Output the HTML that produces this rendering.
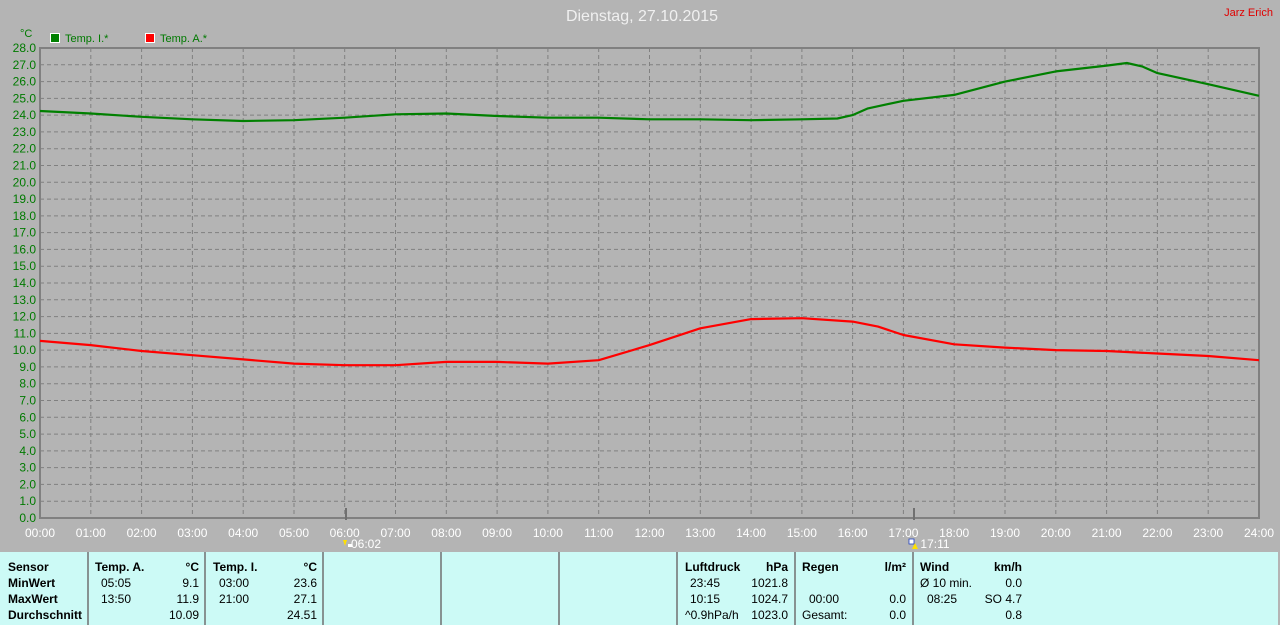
<!DOCTYPE html>
<html><head><meta charset="utf-8"><style>
html,body{margin:0;padding:0;width:1280px;height:625px;overflow:hidden;background:#b4b4b4}
svg{display:block;font-family:"Liberation Sans",Arial,sans-serif}
</style></head><body>
<svg width="1280" height="625" viewBox="0 0 1280 625">
<rect width="1280" height="625" fill="#b4b4b4"/>
<text x="642" y="21" font-size="16" fill="#f0f0f0" text-anchor="middle">Dienstag, 27.10.2015</text>
<text x="1273" y="16" font-size="11" fill="#e00000" text-anchor="end">Jarz Erich</text>
<text x="20" y="37" font-size="11" fill="#007a00">°C</text>
<rect x="50.5" y="33.5" width="9" height="9" fill="#008000" stroke="#fff"/>
<text x="65" y="42" font-size="11" fill="#007a00">Temp. I.*</text>
<rect x="145.5" y="33.5" width="9" height="9" fill="#ff0000" stroke="#fff"/>
<text x="160" y="42" font-size="11" fill="#007a00">Temp. A.*</text>
<g stroke="#808080" stroke-width="1" stroke-dasharray="4,3" fill="none">
<path d="M40 501.2H1259M40 484.4H1259M40 467.6H1259M40 450.9H1259M40 434.1H1259M40 417.3H1259M40 400.5H1259M40 383.7H1259M40 366.9H1259M40 350.1H1259M40 333.4H1259M40 316.6H1259M40 299.8H1259M40 283H1259M40 266.2H1259M40 249.4H1259M40 232.6H1259M40 215.9H1259M40 199.1H1259M40 182.3H1259M40 165.5H1259M40 148.7H1259M40 131.9H1259M40 115.1H1259M40 98.4H1259M40 81.6H1259M40 64.8H1259"/>
<path d="M90.8 48V518M141.6 48V518M192.4 48V518M243.2 48V518M294 48V518M344.7 48V518M395.5 48V518M446.3 48V518M497.1 48V518M547.9 48V518M598.7 48V518M649.5 48V518M700.3 48V518M751.1 48V518M801.9 48V518M852.6 48V518M903.4 48V518M954.2 48V518M1005 48V518M1055.8 48V518M1106.6 48V518M1157.4 48V518M1208.2 48V518"/>
</g>
<g stroke="#808080" stroke-width="2" fill="none">
<path d="M40 48H1259V518H40Z"/>
</g>
<path d="M346 508V520M914 508V520" stroke="#707070" stroke-width="2"/>
<g font-size="12" fill="#007a00" text-anchor="end">
<text x="36" y="522">0.0</text><text x="36" y="505.2">1.0</text><text x="36" y="488.4">2.0</text><text x="36" y="471.6">3.0</text><text x="36" y="454.9">4.0</text><text x="36" y="438.1">5.0</text><text x="36" y="421.3">6.0</text><text x="36" y="404.5">7.0</text><text x="36" y="387.7">8.0</text><text x="36" y="370.9">9.0</text><text x="36" y="354.1">10.0</text><text x="36" y="337.4">11.0</text><text x="36" y="320.6">12.0</text><text x="36" y="303.8">13.0</text><text x="36" y="287">14.0</text><text x="36" y="270.2">15.0</text><text x="36" y="253.4">16.0</text><text x="36" y="236.6">17.0</text><text x="36" y="219.9">18.0</text><text x="36" y="203.1">19.0</text><text x="36" y="186.3">20.0</text><text x="36" y="169.5">21.0</text><text x="36" y="152.7">22.0</text><text x="36" y="135.9">23.0</text><text x="36" y="119.1">24.0</text><text x="36" y="102.4">25.0</text><text x="36" y="85.6">26.0</text><text x="36" y="68.8">27.0</text><text x="36" y="52">28.0</text>
</g>
<g font-size="12" fill="#ffffff" text-anchor="middle">
<text x="40" y="537">00:00</text><text x="90.8" y="537">01:00</text><text x="141.6" y="537">02:00</text><text x="192.4" y="537">03:00</text><text x="243.2" y="537">04:00</text><text x="294" y="537">05:00</text><text x="344.7" y="537">06:00</text><text x="395.5" y="537">07:00</text><text x="446.3" y="537">08:00</text><text x="497.1" y="537">09:00</text><text x="547.9" y="537">10:00</text><text x="598.7" y="537">11:00</text><text x="649.5" y="537">12:00</text><text x="700.3" y="537">13:00</text><text x="751.1" y="537">14:00</text><text x="801.9" y="537">15:00</text><text x="852.6" y="537">16:00</text><text x="903.4" y="537">17:00</text><text x="954.2" y="537">18:00</text><text x="1005" y="537">19:00</text><text x="1055.8" y="537">20:00</text><text x="1106.6" y="537">21:00</text><text x="1157.4" y="537">22:00</text><text x="1208.2" y="537">23:00</text><text x="1259" y="537">24:00</text>
<text x="366" y="548">06:02</text><text x="935" y="548">17:11</text>
</g>
<path d="M343 540l4 0-2 6z" fill="#ffe000"/><rect x="348" y="544" width="4" height="3" fill="#fff"/>
<rect x="909" y="539" width="5" height="5" fill="#fff" stroke="#2040c0" stroke-width="0.8"/><path d="M912 549l3-6 3 6z" fill="#ffe000"/>
<polyline fill="none" stroke="#008000" stroke-width="2.2" stroke-linejoin="round" points="40,111 90.8,113.5 141.6,116.8 192.4,119.3 243.2,121 294,120.2 344.7,117.7 395.5,114.3 446.3,113.5 497.1,116 547.9,117.7 598.7,117.7 649.5,119.3 700.3,119.3 751.1,120.2 801.9,119.3 837.4,118.5 852.6,115.1 867.9,108.4 903.4,100.8 954.2,94.9 1005,81.6 1055.8,71.4 1106.6,65.6 1126.9,63 1142.1,66.4 1157.4,73.1 1208.2,84.2 1259,95.8"/>
<polyline fill="none" stroke="#ff0000" stroke-width="2.2" stroke-linejoin="round" points="40,340.9 90.8,345.1 141.6,351 192.4,355.2 243.2,359.4 294,363.6 344.7,365.2 395.5,365.2 446.3,361.9 497.1,361.9 547.9,363.6 598.7,360.2 649.5,345.1 674.9,336.7 700.3,328.3 751.1,319.1 801.9,318.2 852.6,321.6 878,326.6 903.4,335 954.2,344.3 1005,347.6 1055.8,350.1 1106.6,351 1157.4,353.5 1208.2,356 1259,360.2"/>
<rect x="0" y="552" width="1278" height="73" fill="#ccfaf6"/>
<g stroke="#707070" stroke-width="1.5">
<path d="M88 552V625M205 552V625M323 552V625M441 552V625M559 552V625M677 552V625M795 552V625M913 552V625"/>
</g>
<g font-size="12" fill="#000">
<g font-weight="bold"><text x="8" y="571">Sensor</text><text x="8" y="587">MinWert</text><text x="8" y="603">MaxWert</text><text x="8" y="619">Durchschnitt</text>
<text x="95" y="571">Temp. A.</text><text x="213" y="571">Temp. I.</text><text x="685" y="571">Luftdruck</text><text x="802" y="571">Regen</text><text x="920" y="571">Wind</text></g>
<g font-weight="bold" text-anchor="end"><text x="199" y="571">°C</text><text x="317" y="571">°C</text><text x="788" y="571">hPa</text><text x="906" y="571">l/m²</text><text x="1022" y="571">km/h</text></g>
<text x="101" y="587">05:05</text><text x="101" y="603">13:50</text><text x="219" y="587">03:00</text><text x="219" y="603">21:00</text>
<text x="690" y="587">23:45</text><text x="690" y="603">10:15</text><text x="685" y="619">^0.9hPa/h</text>
<text x="809" y="603">00:00</text><text x="802" y="619">Gesamt:</text>
<text x="920" y="587">Ø 10 min.</text><text x="927" y="603">08:25</text>
<g text-anchor="end"><text x="199" y="587">9.1</text><text x="199" y="603">11.9</text><text x="199" y="619">10.09</text>
<text x="317" y="587">23.6</text><text x="317" y="603">27.1</text><text x="317" y="619">24.51</text>
<text x="788" y="587">1021.8</text><text x="788" y="603">1024.7</text><text x="788" y="619">1023.0</text>
<text x="906" y="603">0.0</text><text x="906" y="619">0.0</text>
<text x="1022" y="587">0.0</text><text x="1022" y="603">SO 4.7</text><text x="1022" y="619">0.8</text></g>
</g>
</svg>
</body></html>
